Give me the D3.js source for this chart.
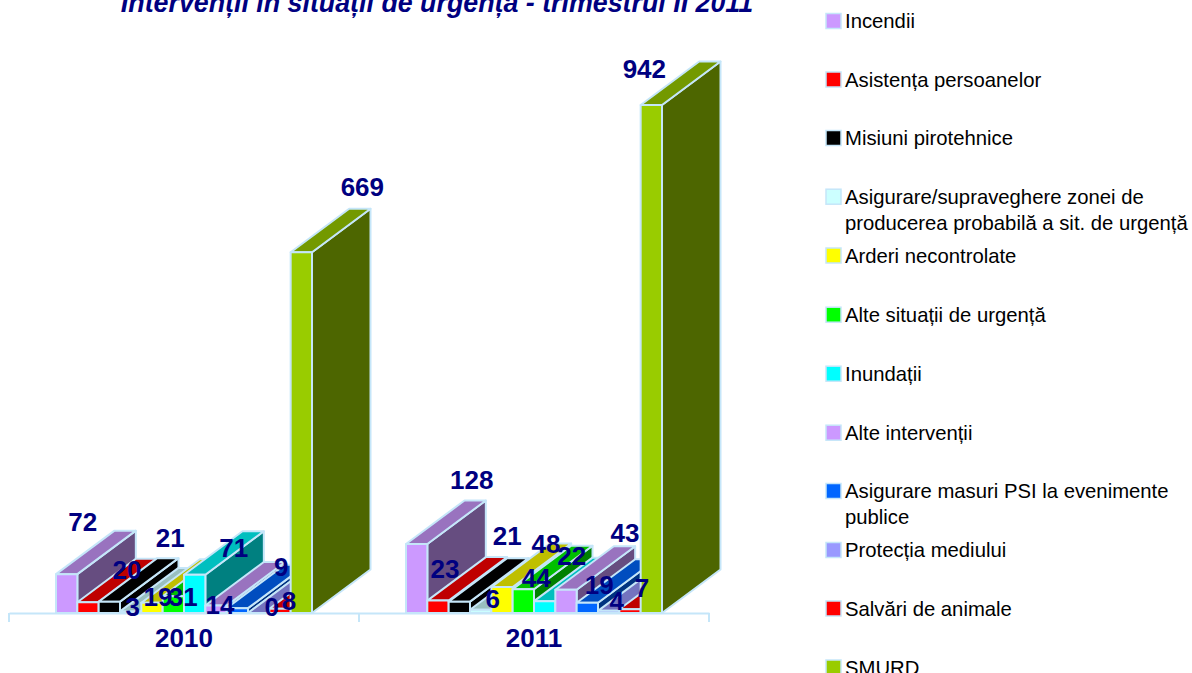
<!DOCTYPE html>
<html><head><meta charset="utf-8">
<script src="https://cdn.jsdelivr.net/npm/d3@7/dist/d3.min.js"></script>
<style>html,body{margin:0;padding:0;background:#fff;overflow:hidden}svg{display:block}text{font-family:"Liberation Sans",Arial,sans-serif}</style>
</head><body><svg id="c" width="1192" height="673"></svg>
<script>
const years = ["2010","2011"];
const seriesNames = ["Incendii","Asistența persoanelor","Misiuni pirotehnice","Asigurare/supraveghere zonei de producerea probabilă a sit. de urgență","Arderi necontrolate","Alte situații de urgență","Inundații","Alte intervenții","Asigurare masuri PSI la evenimente publice","Protecția mediului","Salvări de animale","SMURD"];
const seriesColors = ["#CC99FF","#FF0000","#000000","#CCFFFF","#FFFF00","#00FF00","#00FFFF","#CC99FF","#0066FF","#9999FF","#FF0000","#99CC00"];
const values2010 = [72,20,21,3,19,31,71,14,9,0,8,669];
const values2011 = [128,23,21,6,48,44,22,43,19,4,7,942];
const valuesByYear = [values2010, values2011];
// hand-placed label offsets from each bar's top centre, as in the source chart
const labelNudge2010 = [[16,-52.5],[39,-32],[61,-64],[2,-4],[6,-6],[10,1],[39,-27],[4,0],[44,-41],[13,-6],[9,-8],[61,-65]];
const labelNudge2011 = [[55,-64],[7,-32],[48,-66],[12,-11],[44,-43],[13,-11],[27,-45],[59,-57],[12,-18],[8,-10],[12,-21],[-7,-36]];
const nudges = [labelNudge2010, labelNudge2011];
const legendLines = [["Incendii"],["Asistența persoanelor"],["Misiuni pirotehnice"],["Asigurare/supraveghere zonei de","producerea probabilă a sit. de urgență"],["Arderi necontrolate"],["Alte situații de urgență"],["Inundații"],["Alte intervenții"],["Asigurare masuri PSI la evenimente","publice"],["Protecția mediului"],["Salvări de animale"],["SMURD"]];
const legendRows = [21,79.5,138,196.7,255.5,314.7,373.7,432.7,491,550,608.5,667.5];
const title = "Intervenții în situații de urgență - trimestrul II 2011";

const navy = "#000080", edge = "#C5E6F9";
const svg = d3.select("#c");
const baseY = 613, depthX = 58.5, depthY = 43.5;
const x0 = d3.scaleBand().domain(years).range([9,709]);
const x1 = d3.scaleBand().domain(d3.range(seriesNames.length)).range([47,303]);
const y = d3.scaleLinear().domain([0,942]).range([baseY,baseY-508]);
const shade = (c,k)=>{const r=d3.rgb(c);return d3.rgb(r.r*k,r.g*k,r.b*k).formatHex();};

svg.append("text").attr("x",437).attr("y",12).attr("text-anchor","middle")
  .attr("font-size",26.8).attr("font-weight","bold").attr("font-style","italic").attr("fill",navy).text(title);

// axis
const axisG = svg.append("g").attr("transform",`translate(0,${baseY})`)
  .call(d3.axisBottom(x0).tickSize(0).tickPadding(15.5));
axisG.select(".domain").attr("stroke",edge).attr("stroke-width",2);
axisG.selectAll("text").attr("font-size",26).attr("font-weight","bold").attr("fill",navy)
  .style("font-family",'"Liberation Sans",Arial,sans-serif');
const tickXs = years.map(d=>x0(d)).concat(x0(years[1])+x0.bandwidth());
svg.append("g").selectAll("line").data(tickXs).join("line")
  .attr("x1",d=>d).attr("x2",d=>d).attr("y1",baseY).attr("y2",baseY+9).attr("stroke",edge).attr("stroke-width",2);

// bars
const line = d3.line();
years.forEach((yr,gi)=>{
  const g = svg.append("g");
  const rows = valuesByYear[gi].map((v,i)=>({v,i}));
  const cell = g.selectAll("g").data(rows).join("g")
    .attr("stroke",edge).attr("stroke-width",2).attr("stroke-linejoin","round");
  const L = d=>x0(yr)+x1(d.i), R = d=>L(d)+x1.bandwidth();
  cell.append("path").attr("fill",d=>shade(seriesColors[d.i],.5))
    .attr("d",d=>line([[R(d),baseY],[R(d)+depthX,baseY-depthY],[R(d)+depthX,y(d.v)-depthY],[R(d),y(d.v)]])+"Z");
  cell.append("path").attr("fill",d=>shade(seriesColors[d.i],.75))
    .attr("d",d=>line([[L(d),y(d.v)],[L(d)+depthX,y(d.v)-depthY],[R(d)+depthX,y(d.v)-depthY],[R(d),y(d.v)]])+"Z");
  cell.append("rect").attr("fill",d=>seriesColors[d.i])
    .attr("x",L).attr("y",d=>y(d.v)).attr("width",x1.bandwidth()).attr("height",d=>baseY-y(d.v));
});
// value labels on top
years.forEach((yr,gi)=>{
  svg.append("g").selectAll("text").data(valuesByYear[gi]).join("text")
    .attr("x",(d,i)=>x0(yr)+x1(i)+x1.bandwidth()/2+nudges[gi][i][0])
    .attr("y",(d,i)=>y(d)+nudges[gi][i][1]+9)
    .attr("text-anchor","middle").attr("font-size",26).attr("font-weight","bold").attr("fill",navy)
    .text(d=>d);
});
// legend
const lg = svg.append("g").selectAll("g").data(legendLines).join("g")
  .attr("transform",(d,i)=>`translate(826,${legendRows[i]})`);
lg.append("rect").attr("x",0).attr("y",-7.5).attr("width",15).attr("height",15)
  .attr("fill",(d,i)=>seriesColors[i]).attr("stroke",edge).attr("stroke-width",1.5);
lg.selectAll("text").data(d=>d).join("text").attr("x",19).attr("y",(d,i)=>7+i*26)
  .attr("font-size",20.3).attr("fill","#000").text(d=>d);
</script></body></html>
